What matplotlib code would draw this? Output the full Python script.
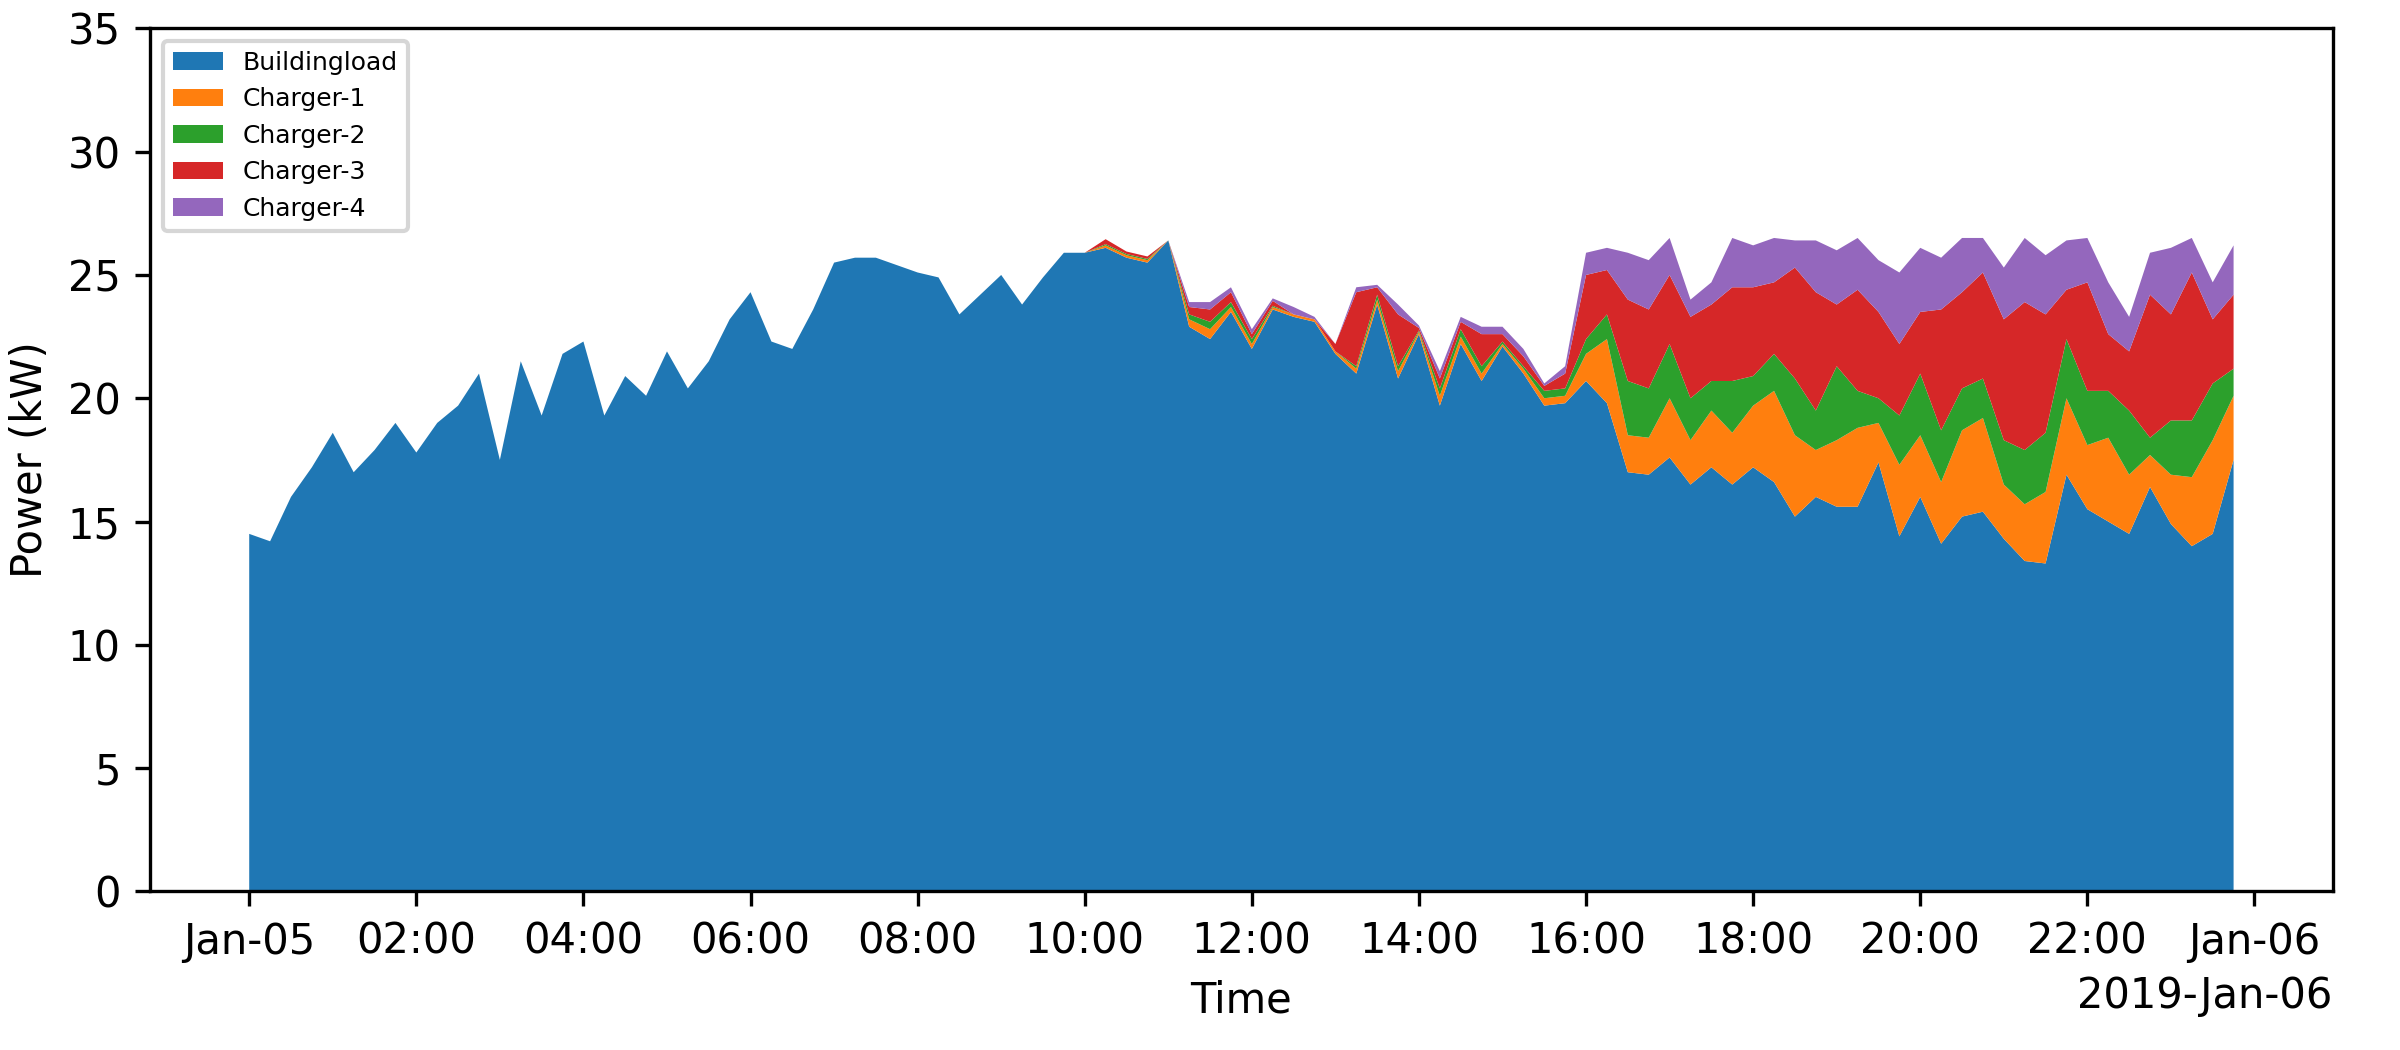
import matplotlib
matplotlib.use('Agg')
import matplotlib.pyplot as plt
import matplotlib.dates as mdates
import numpy as np
import pandas as pd

# 15-minute samples, 2019-01-05 00:00 .. 23:45
times = pd.date_range('2019-01-05 00:00', periods=96, freq='15min')

building = [14.5, 14.2, 16.0, 17.2, 18.6, 17.0, 17.9, 19.0, 17.8, 19.0, 19.7, 21.0,
            17.5, 21.5, 19.3, 21.8, 22.3, 19.3, 20.9, 20.1, 21.9, 20.4, 21.5, 23.2,
            24.3, 22.3, 22.0, 23.6, 25.5, 25.7, 25.7, 25.4, 25.1, 24.9, 23.4, 24.2,
            25.0, 23.8, 24.9, 25.9, 25.9, 26.1, 25.7, 25.5, 26.4, 22.9, 22.4, 23.5,
            22.0, 23.6, 23.3, 23.1, 21.8, 21.0, 23.8, 20.8, 22.6, 19.7, 22.2, 20.7,
            22.1, 21.0, 19.7, 19.8, 20.7, 19.8, 17.0, 16.9, 17.6, 16.5, 17.2, 16.5,
            17.2, 16.6, 15.2, 16.0, 15.6, 15.6, 17.4, 14.4, 16.0, 14.1, 15.2, 15.4,
            14.3, 13.4, 13.3, 16.9, 15.5, 15.0, 14.5, 16.4, 14.9, 14.0, 14.5, 17.5]

# cumulative tops for 16:00 onwards
top_o = [21.8, 22.4, 18.5, 18.4, 20.0, 18.3, 19.5, 18.6, 19.7, 20.3, 18.5, 17.9,
         18.3, 18.8, 19.0, 17.3, 18.5, 16.6, 18.7, 19.2, 16.5, 15.7, 16.2, 20.0,
         18.1, 18.4, 16.9, 17.7, 16.9, 16.8, 18.3, 20.1]
top_g = [22.4, 23.4, 20.7, 20.4, 22.2, 20.0, 20.7, 20.7, 20.9, 21.8, 20.8, 19.5,
         21.3, 20.3, 20.0, 19.3, 21.0, 18.7, 20.4, 20.8, 18.3, 17.9, 18.6, 22.4,
         20.3, 20.3, 19.5, 18.4, 19.1, 19.1, 20.6, 21.2]
top_r = [25.0, 25.2, 24.0, 23.6, 25.0, 23.3, 23.8, 24.5, 24.5, 24.7, 25.3, 24.3,
         23.8, 24.4, 23.5, 22.2, 23.5, 23.6, 24.3, 25.1, 23.2, 23.9, 23.4, 24.4,
         24.7, 22.6, 21.9, 24.2, 23.4, 25.1, 23.2, 24.2]
top_p = [25.9, 26.1, 25.9, 25.6, 26.5, 24.0, 24.7, 26.5, 26.2, 26.5, 26.4, 26.4,
         26.0, 26.5, 25.6, 25.1, 26.1, 25.7, 26.5, 26.5, 25.3, 26.5, 25.8, 26.4,
         26.5, 24.7, 23.3, 25.9, 26.1, 26.5, 24.7, 26.2]

# small charger loads 10:15 .. 15:45 (index 41..63)
mid_o = [0.1, 0.1, 0.1, 0.0, 0.3, 0.4, 0.2, 0.2, 0.1, 0.1, 0.1, 0.1, 0.2, 0.2,
         0.3, 0.1, 0.4, 0.3, 0.3, 0.1, 0.2, 0.3, 0.3]
mid_g = [0.05, 0.05, 0.05, 0.0, 0.2, 0.3, 0.2, 0.2, 0.05, 0.0, 0.0, 0.0, 0.1, 0.2,
         0.2, 0.05, 0.3, 0.3, 0.3, 0.1, 0.1, 0.3, 0.3]
mid_r = [0.2, 0.1, 0.1, 0.0, 0.3, 0.5, 0.4, 0.2, 0.2, 0.0, 0.0, 0.3, 3.0, 0.3,
         2.1, 0.1, 0.4, 0.3, 1.3, 0.3, 0.4, 0.2, 0.6]
mid_p = [0.0, 0.0, 0.0, 0.0, 0.2, 0.3, 0.2, 0.2, 0.1, 0.3, 0.1, 0.0, 0.2, 0.1,
         0.4, 0.1, 0.3, 0.2, 0.3, 0.3, 0.3, 0.1, 0.3]

b = np.array(building)
c1 = np.zeros(96); c2 = np.zeros(96); c3 = np.zeros(96); c4 = np.zeros(96)
c1[41:64] = mid_o; c2[41:64] = mid_g; c3[41:64] = mid_r; c4[41:64] = mid_p
c1[64:] = np.array(top_o) - b[64:]
c2[64:] = np.array(top_g) - np.array(top_o)
c3[64:] = np.array(top_r) - np.array(top_g)
c4[64:] = np.array(top_p) - np.array(top_r)

fig = plt.figure(figsize=(8, 3.5), dpi=300)
ax = fig.add_axes([0.0625, 0.151, 0.9095, 0.822])
ax.stackplot(times, b, c1, c2, c3, c4,
             labels=['Buildingload', 'Charger-1', 'Charger-2', 'Charger-3', 'Charger-4'])
ax.set_ylim(0, 35)
ax.set_xlabel('Time')
ax.set_ylabel('Power (kW)')

loc = mdates.HourLocator(interval=2)
fmt = mdates.ConciseDateFormatter(loc)
fmt.zero_formats = ['', '%Y', '%b', '%b-%d', '%H:%M', '%H:%M']
fmt.offset_formats = ['', '%Y', '%Y-%b', '%Y-%b-%d', '%Y-%b-%d', '%Y-%b-%d %H:%M']
ax.xaxis.set_major_locator(loc)
ax.xaxis.set_major_formatter(fmt)
ax.legend(loc='upper left', fontsize=6)

fig.savefig('out.png')
